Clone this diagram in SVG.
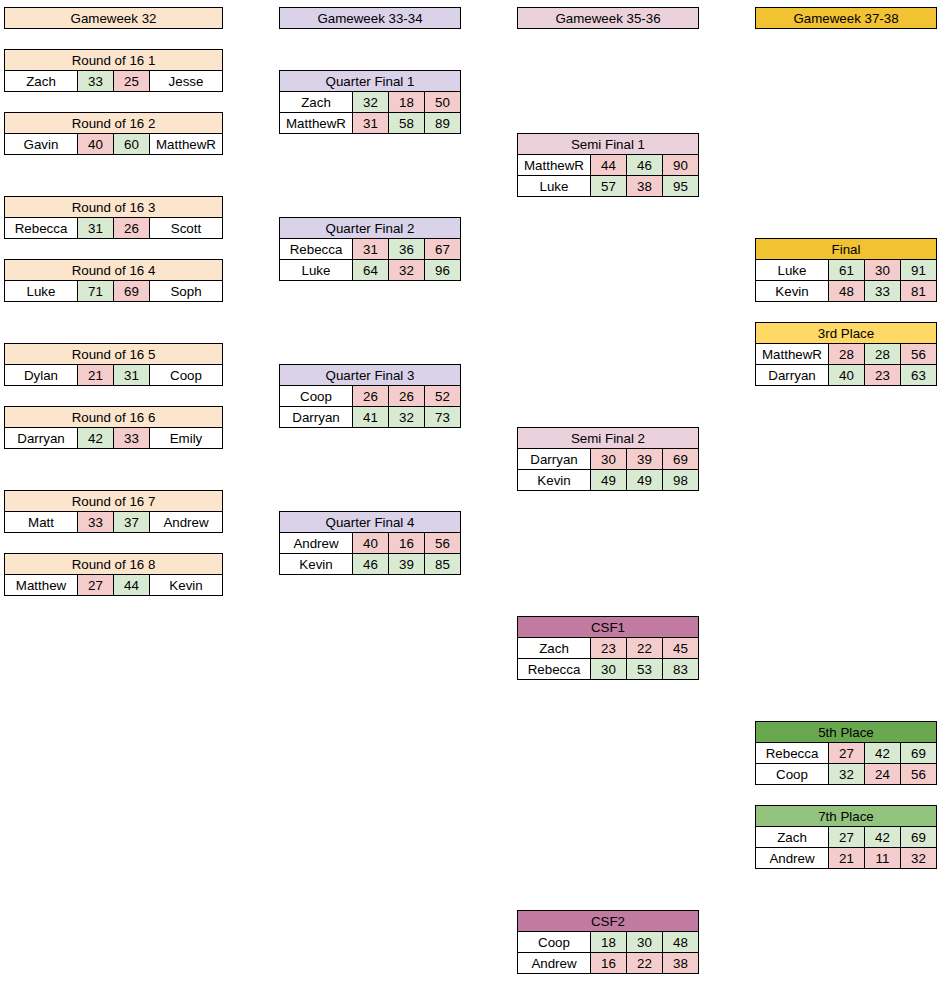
<svg xmlns="http://www.w3.org/2000/svg" width="951" height="986" viewBox="0 0 951 986">
<style>
rect { stroke:#000; stroke-width:1; }
.w { fill:#ffffff; }
.g { fill:#d9ead3; }
.r { fill:#f4cccc; }
.or { fill:#fce5cd; }
.pu { fill:#d9d2e9; }
.mg { fill:#ead1dc; }
.gd { fill:#f1c232; }
.yl { fill:#ffd966; }
.cs { fill:#c27ba0; }
.dg { fill:#6aa84f; }
.lg { fill:#93c47d; }
text { font-family:"Liberation Sans", Arial, sans-serif; font-size:13.33px; text-anchor:middle; fill:#000; }
</style>
<rect width="951" height="986" fill="#ffffff" style="stroke:none"/>

<!-- Column headers -->
<g id="gw32" transform="translate(4.5,7.5)"><rect class="or" width="218" height="21"/><text x="109" y="15.5">Gameweek 32</text></g>
<g id="gw33-34" transform="translate(279.5,7.5)"><rect class="pu" width="181" height="21"/><text x="90.5" y="15.5">Gameweek 33-34</text></g>
<g id="gw35-36" transform="translate(517.5,7.5)"><rect class="mg" width="181" height="21"/><text x="90.5" y="15.5">Gameweek 35-36</text></g>
<g id="gw37-38" transform="translate(755.5,7.5)"><rect class="gd" width="181" height="21"/><text x="90.5" y="15.5">Gameweek 37-38</text></g>

<!-- Round of 16 -->
<g id="r16-1" transform="translate(4.5,49.5)"><rect class="or" width="218" height="21"/><text x="109" y="15.5">Round of 16 1</text>
<rect class="w" y="21" width="73" height="21"/><rect class="g" x="73" y="21" width="36" height="21"/><rect class="r" x="109" y="21" width="36" height="21"/><rect class="w" x="145" y="21" width="73" height="21"/>
<text x="36.5" y="36.5">Zach</text><text x="91" y="36.5">33</text><text x="127" y="36.5">25</text><text x="181.5" y="36.5">Jesse</text></g>

<g id="r16-2" transform="translate(4.5,112.5)"><rect class="or" width="218" height="21"/><text x="109" y="15.5">Round of 16 2</text>
<rect class="w" y="21" width="73" height="21"/><rect class="r" x="73" y="21" width="36" height="21"/><rect class="g" x="109" y="21" width="36" height="21"/><rect class="w" x="145" y="21" width="73" height="21"/>
<text x="36.5" y="36.5">Gavin</text><text x="91" y="36.5">40</text><text x="127" y="36.5">60</text><text x="181.5" y="36.5">MatthewR</text></g>

<g id="r16-3" transform="translate(4.5,196.5)"><rect class="or" width="218" height="21"/><text x="109" y="15.5">Round of 16 3</text>
<rect class="w" y="21" width="73" height="21"/><rect class="g" x="73" y="21" width="36" height="21"/><rect class="r" x="109" y="21" width="36" height="21"/><rect class="w" x="145" y="21" width="73" height="21"/>
<text x="36.5" y="36.5">Rebecca</text><text x="91" y="36.5">31</text><text x="127" y="36.5">26</text><text x="181.5" y="36.5">Scott</text></g>

<g id="r16-4" transform="translate(4.5,259.5)"><rect class="or" width="218" height="21"/><text x="109" y="15.5">Round of 16 4</text>
<rect class="w" y="21" width="73" height="21"/><rect class="g" x="73" y="21" width="36" height="21"/><rect class="r" x="109" y="21" width="36" height="21"/><rect class="w" x="145" y="21" width="73" height="21"/>
<text x="36.5" y="36.5">Luke</text><text x="91" y="36.5">71</text><text x="127" y="36.5">69</text><text x="181.5" y="36.5">Soph</text></g>

<g id="r16-5" transform="translate(4.5,343.5)"><rect class="or" width="218" height="21"/><text x="109" y="15.5">Round of 16 5</text>
<rect class="w" y="21" width="73" height="21"/><rect class="r" x="73" y="21" width="36" height="21"/><rect class="g" x="109" y="21" width="36" height="21"/><rect class="w" x="145" y="21" width="73" height="21"/>
<text x="36.5" y="36.5">Dylan</text><text x="91" y="36.5">21</text><text x="127" y="36.5">31</text><text x="181.5" y="36.5">Coop</text></g>

<g id="r16-6" transform="translate(4.5,406.5)"><rect class="or" width="218" height="21"/><text x="109" y="15.5">Round of 16 6</text>
<rect class="w" y="21" width="73" height="21"/><rect class="g" x="73" y="21" width="36" height="21"/><rect class="r" x="109" y="21" width="36" height="21"/><rect class="w" x="145" y="21" width="73" height="21"/>
<text x="36.5" y="36.5">Darryan</text><text x="91" y="36.5">42</text><text x="127" y="36.5">33</text><text x="181.5" y="36.5">Emily</text></g>

<g id="r16-7" transform="translate(4.5,490.5)"><rect class="or" width="218" height="21"/><text x="109" y="15.5">Round of 16 7</text>
<rect class="w" y="21" width="73" height="21"/><rect class="r" x="73" y="21" width="36" height="21"/><rect class="g" x="109" y="21" width="36" height="21"/><rect class="w" x="145" y="21" width="73" height="21"/>
<text x="36.5" y="36.5">Matt</text><text x="91" y="36.5">33</text><text x="127" y="36.5">37</text><text x="181.5" y="36.5">Andrew</text></g>

<g id="r16-8" transform="translate(4.5,553.5)"><rect class="or" width="218" height="21"/><text x="109" y="15.5">Round of 16 8</text>
<rect class="w" y="21" width="73" height="21"/><rect class="r" x="73" y="21" width="36" height="21"/><rect class="g" x="109" y="21" width="36" height="21"/><rect class="w" x="145" y="21" width="73" height="21"/>
<text x="36.5" y="36.5">Matthew</text><text x="91" y="36.5">27</text><text x="127" y="36.5">44</text><text x="181.5" y="36.5">Kevin</text></g>

<!-- Quarter finals -->
<g id="qf-1" transform="translate(279.5,70.5)"><rect class="pu" width="181" height="21"/><text x="90.5" y="15.5">Quarter Final 1</text>
<rect class="w" y="21" width="73" height="21"/><rect class="g" x="73" y="21" width="36" height="21"/><rect class="r" x="109" y="21" width="36" height="21"/><rect class="r" x="145" y="21" width="36" height="21"/>
<text x="36.5" y="36.5">Zach</text><text x="91" y="36.5">32</text><text x="127" y="36.5">18</text><text x="163" y="36.5">50</text>
<rect class="w" y="42" width="73" height="21"/><rect class="r" x="73" y="42" width="36" height="21"/><rect class="g" x="109" y="42" width="36" height="21"/><rect class="g" x="145" y="42" width="36" height="21"/>
<text x="36.5" y="57.5">MatthewR</text><text x="91" y="57.5">31</text><text x="127" y="57.5">58</text><text x="163" y="57.5">89</text></g>

<g id="qf-2" transform="translate(279.5,217.5)"><rect class="pu" width="181" height="21"/><text x="90.5" y="15.5">Quarter Final 2</text>
<rect class="w" y="21" width="73" height="21"/><rect class="r" x="73" y="21" width="36" height="21"/><rect class="g" x="109" y="21" width="36" height="21"/><rect class="r" x="145" y="21" width="36" height="21"/>
<text x="36.5" y="36.5">Rebecca</text><text x="91" y="36.5">31</text><text x="127" y="36.5">36</text><text x="163" y="36.5">67</text>
<rect class="w" y="42" width="73" height="21"/><rect class="g" x="73" y="42" width="36" height="21"/><rect class="r" x="109" y="42" width="36" height="21"/><rect class="g" x="145" y="42" width="36" height="21"/>
<text x="36.5" y="57.5">Luke</text><text x="91" y="57.5">64</text><text x="127" y="57.5">32</text><text x="163" y="57.5">96</text></g>

<g id="qf-3" transform="translate(279.5,364.5)"><rect class="pu" width="181" height="21"/><text x="90.5" y="15.5">Quarter Final 3</text>
<rect class="w" y="21" width="73" height="21"/><rect class="r" x="73" y="21" width="36" height="21"/><rect class="r" x="109" y="21" width="36" height="21"/><rect class="r" x="145" y="21" width="36" height="21"/>
<text x="36.5" y="36.5">Coop</text><text x="91" y="36.5">26</text><text x="127" y="36.5">26</text><text x="163" y="36.5">52</text>
<rect class="w" y="42" width="73" height="21"/><rect class="g" x="73" y="42" width="36" height="21"/><rect class="g" x="109" y="42" width="36" height="21"/><rect class="g" x="145" y="42" width="36" height="21"/>
<text x="36.5" y="57.5">Darryan</text><text x="91" y="57.5">41</text><text x="127" y="57.5">32</text><text x="163" y="57.5">73</text></g>

<g id="qf-4" transform="translate(279.5,511.5)"><rect class="pu" width="181" height="21"/><text x="90.5" y="15.5">Quarter Final 4</text>
<rect class="w" y="21" width="73" height="21"/><rect class="r" x="73" y="21" width="36" height="21"/><rect class="r" x="109" y="21" width="36" height="21"/><rect class="r" x="145" y="21" width="36" height="21"/>
<text x="36.5" y="36.5">Andrew</text><text x="91" y="36.5">40</text><text x="127" y="36.5">16</text><text x="163" y="36.5">56</text>
<rect class="w" y="42" width="73" height="21"/><rect class="g" x="73" y="42" width="36" height="21"/><rect class="g" x="109" y="42" width="36" height="21"/><rect class="g" x="145" y="42" width="36" height="21"/>
<text x="36.5" y="57.5">Kevin</text><text x="91" y="57.5">46</text><text x="127" y="57.5">39</text><text x="163" y="57.5">85</text></g>

<!-- Semi finals and consolation -->
<g id="sf-1" transform="translate(517.5,133.5)"><rect class="mg" width="181" height="21"/><text x="90.5" y="15.5">Semi Final 1</text>
<rect class="w" y="21" width="73" height="21"/><rect class="r" x="73" y="21" width="36" height="21"/><rect class="g" x="109" y="21" width="36" height="21"/><rect class="r" x="145" y="21" width="36" height="21"/>
<text x="36.5" y="36.5">MatthewR</text><text x="91" y="36.5">44</text><text x="127" y="36.5">46</text><text x="163" y="36.5">90</text>
<rect class="w" y="42" width="73" height="21"/><rect class="g" x="73" y="42" width="36" height="21"/><rect class="r" x="109" y="42" width="36" height="21"/><rect class="g" x="145" y="42" width="36" height="21"/>
<text x="36.5" y="57.5">Luke</text><text x="91" y="57.5">57</text><text x="127" y="57.5">38</text><text x="163" y="57.5">95</text></g>

<g id="sf-2" transform="translate(517.5,427.5)"><rect class="mg" width="181" height="21"/><text x="90.5" y="15.5">Semi Final 2</text>
<rect class="w" y="21" width="73" height="21"/><rect class="r" x="73" y="21" width="36" height="21"/><rect class="r" x="109" y="21" width="36" height="21"/><rect class="r" x="145" y="21" width="36" height="21"/>
<text x="36.5" y="36.5">Darryan</text><text x="91" y="36.5">30</text><text x="127" y="36.5">39</text><text x="163" y="36.5">69</text>
<rect class="w" y="42" width="73" height="21"/><rect class="g" x="73" y="42" width="36" height="21"/><rect class="g" x="109" y="42" width="36" height="21"/><rect class="g" x="145" y="42" width="36" height="21"/>
<text x="36.5" y="57.5">Kevin</text><text x="91" y="57.5">49</text><text x="127" y="57.5">49</text><text x="163" y="57.5">98</text></g>

<g id="csf-1" transform="translate(517.5,616.5)"><rect class="cs" width="181" height="21"/><text x="90.5" y="15.5">CSF1</text>
<rect class="w" y="21" width="73" height="21"/><rect class="r" x="73" y="21" width="36" height="21"/><rect class="r" x="109" y="21" width="36" height="21"/><rect class="r" x="145" y="21" width="36" height="21"/>
<text x="36.5" y="36.5">Zach</text><text x="91" y="36.5">23</text><text x="127" y="36.5">22</text><text x="163" y="36.5">45</text>
<rect class="w" y="42" width="73" height="21"/><rect class="g" x="73" y="42" width="36" height="21"/><rect class="g" x="109" y="42" width="36" height="21"/><rect class="g" x="145" y="42" width="36" height="21"/>
<text x="36.5" y="57.5">Rebecca</text><text x="91" y="57.5">30</text><text x="127" y="57.5">53</text><text x="163" y="57.5">83</text></g>

<g id="csf-2" transform="translate(517.5,910.5)"><rect class="cs" width="181" height="21"/><text x="90.5" y="15.5">CSF2</text>
<rect class="w" y="21" width="73" height="21"/><rect class="g" x="73" y="21" width="36" height="21"/><rect class="g" x="109" y="21" width="36" height="21"/><rect class="g" x="145" y="21" width="36" height="21"/>
<text x="36.5" y="36.5">Coop</text><text x="91" y="36.5">18</text><text x="127" y="36.5">30</text><text x="163" y="36.5">48</text>
<rect class="w" y="42" width="73" height="21"/><rect class="r" x="73" y="42" width="36" height="21"/><rect class="r" x="109" y="42" width="36" height="21"/><rect class="r" x="145" y="42" width="36" height="21"/>
<text x="36.5" y="57.5">Andrew</text><text x="91" y="57.5">16</text><text x="127" y="57.5">22</text><text x="163" y="57.5">38</text></g>

<!-- Finals -->
<g id="final" transform="translate(755.5,238.5)"><rect class="gd" width="181" height="21"/><text x="90.5" y="15.5">Final</text>
<rect class="w" y="21" width="73" height="21"/><rect class="g" x="73" y="21" width="36" height="21"/><rect class="r" x="109" y="21" width="36" height="21"/><rect class="g" x="145" y="21" width="36" height="21"/>
<text x="36.5" y="36.5">Luke</text><text x="91" y="36.5">61</text><text x="127" y="36.5">30</text><text x="163" y="36.5">91</text>
<rect class="w" y="42" width="73" height="21"/><rect class="r" x="73" y="42" width="36" height="21"/><rect class="g" x="109" y="42" width="36" height="21"/><rect class="r" x="145" y="42" width="36" height="21"/>
<text x="36.5" y="57.5">Kevin</text><text x="91" y="57.5">48</text><text x="127" y="57.5">33</text><text x="163" y="57.5">81</text></g>

<g id="third-place" transform="translate(755.5,322.5)"><rect class="yl" width="181" height="21"/><text x="90.5" y="15.5">3rd Place</text>
<rect class="w" y="21" width="73" height="21"/><rect class="r" x="73" y="21" width="36" height="21"/><rect class="g" x="109" y="21" width="36" height="21"/><rect class="r" x="145" y="21" width="36" height="21"/>
<text x="36.5" y="36.5">MatthewR</text><text x="91" y="36.5">28</text><text x="127" y="36.5">28</text><text x="163" y="36.5">56</text>
<rect class="w" y="42" width="73" height="21"/><rect class="g" x="73" y="42" width="36" height="21"/><rect class="r" x="109" y="42" width="36" height="21"/><rect class="g" x="145" y="42" width="36" height="21"/>
<text x="36.5" y="57.5">Darryan</text><text x="91" y="57.5">40</text><text x="127" y="57.5">23</text><text x="163" y="57.5">63</text></g>

<g id="fifth-place" transform="translate(755.5,721.5)"><rect class="dg" width="181" height="21"/><text x="90.5" y="15.5">5th Place</text>
<rect class="w" y="21" width="73" height="21"/><rect class="r" x="73" y="21" width="36" height="21"/><rect class="g" x="109" y="21" width="36" height="21"/><rect class="g" x="145" y="21" width="36" height="21"/>
<text x="36.5" y="36.5">Rebecca</text><text x="91" y="36.5">27</text><text x="127" y="36.5">42</text><text x="163" y="36.5">69</text>
<rect class="w" y="42" width="73" height="21"/><rect class="g" x="73" y="42" width="36" height="21"/><rect class="r" x="109" y="42" width="36" height="21"/><rect class="r" x="145" y="42" width="36" height="21"/>
<text x="36.5" y="57.5">Coop</text><text x="91" y="57.5">32</text><text x="127" y="57.5">24</text><text x="163" y="57.5">56</text></g>

<g id="seventh-place" transform="translate(755.5,805.5)"><rect class="lg" width="181" height="21"/><text x="90.5" y="15.5">7th Place</text>
<rect class="w" y="21" width="73" height="21"/><rect class="g" x="73" y="21" width="36" height="21"/><rect class="g" x="109" y="21" width="36" height="21"/><rect class="g" x="145" y="21" width="36" height="21"/>
<text x="36.5" y="36.5">Zach</text><text x="91" y="36.5">27</text><text x="127" y="36.5">42</text><text x="163" y="36.5">69</text>
<rect class="w" y="42" width="73" height="21"/><rect class="r" x="73" y="42" width="36" height="21"/><rect class="r" x="109" y="42" width="36" height="21"/><rect class="r" x="145" y="42" width="36" height="21"/>
<text x="36.5" y="57.5">Andrew</text><text x="91" y="57.5">21</text><text x="127" y="57.5">11</text><text x="163" y="57.5">32</text></g>
</svg>
